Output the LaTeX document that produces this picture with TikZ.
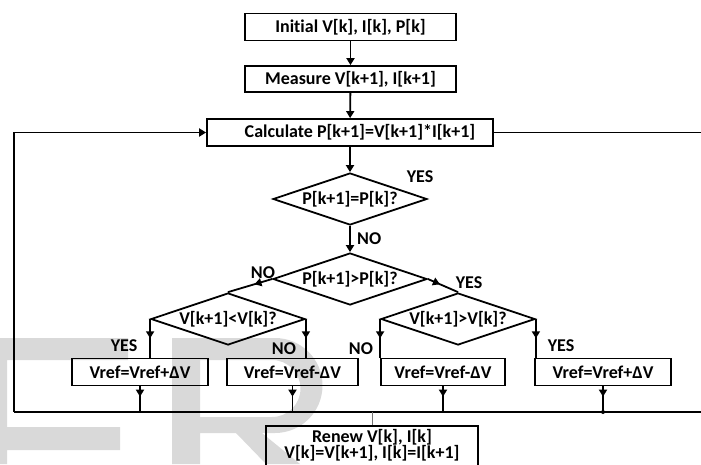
\documentclass[tikz,border=0pt]{standalone}
\usepackage{fontspec}
\setmainfont{Carlito}[Ligatures=NoCommon]
\usetikzlibrary{shapes.geometric,decorations.markings,arrows.meta}

\begin{document}
\begin{tikzpicture}[x=1pt,y=-1pt,line width=1.8pt,
    font=\bfseries\fontsize{18}{20}\selectfont,
    box/.style={draw,rectangle,minimum height=27pt,inner sep=2pt},
    cond/.style={draw,diamond,aspect=3,minimum width=154pt,minimum height=52pt,inner sep=0pt},
    tip/.style={-{Triangle[width=8pt,length=7pt]}},
    midtip/.style={postaction={decorate},decoration={markings,
        mark=at position #1 with {\arrow{Triangle[width=8pt,length=7pt]}}}},
    midtip/.default=0.5]
    \useasboundingbox (0,0) rectangle (701,464);
    \fill[black!15] (0,338) rectangle (7,464) (0,338) rectangle (128,360) (0,427) rectangle (120,450);
    \fill[black!15,even odd rule] (172,338) -- (275,338) arc[start angle=-90,end angle=90,radius=47.5]
        -- (200,433) -- (200,464) -- (172,464) -- cycle
        (200,360) -- (272,360) arc[start angle=-90,end angle=90,radius=28.5] -- (200,417) -- cycle;
    \fill[black!15] (236,433) -- (262,433) -- (300,464) -- (266,464) -- cycle;

    \node[box,minimum width=211pt] (init) at (350.5,27) {Initial V[k], I[k], P[k]};
    \node[box,minimum width=211pt,minimum height=26pt] (meas) at (350.5,79) {Measure V[k+1], I[k+1]};
    \node[box,minimum width=286pt] (calc) at (350,132.5) {\hspace{20pt}Calculate P[k+1]=V[k+1]*I[k+1]};
    \node[cond] (eqp) at (350,199) {P[k+1]=P[k]?};
    \node[cond] (gtp) at (350,279) {P[k+1]>P[k]?};
    \node[cond] (ltv) at (228,319) {V[k+1]<V[k]?};
    \node[cond] (gtv) at (458,319) {V[k+1]>V[k]?};
    \node[box,minimum width=136pt] (incl) at (140,372) {Vref=Vref+ΔV};
    \node[box,minimum width=131pt] (decl) at (292.5,372) {Vref=Vref-ΔV};
    \node[box,minimum width=124pt] (decr) at (443,372) {Vref=Vref-ΔV};
    \node[box,minimum width=136pt] (incr) at (603,372) {Vref=Vref+ΔV};
    \node[box,anchor=north,minimum width=212pt,minimum height=0pt,inner ysep=3pt,align=center,
        text depth=15pt,font=\bfseries\fontsize{18}{16.5}\selectfont] (renew) at (372,425)
        {Renew V[k], I[k]\\V[k]=V[k+1], I[k]=I[k+1]};
    \coordinate (bl) at (14,412);
    \coordinate (br) at (701,412);
    \coordinate (cr) at (701,132.5);

    \draw[tip] (init) -- (meas);
    \draw[tip] (meas) -- (calc);
    \draw[tip] (calc) -- (eqp);
    \draw[tip] (eqp) -- node[right=3pt] (noeq) {NO} (gtp);
    \node (yeseq) at (420,177) {YES};
    \draw[midtip=0.4] (gtp.west) -- (ltv.north);
    \draw[midtip=0.4] (gtp.east) -- (gtv.north);
    \node (nogt) at (263,273) {NO};
    \node (yesgt) at (469,283) {YES};
    \draw[midtip] (ltv.west) -- (ltv.west |- incl.north);
    \draw[midtip] (ltv.east) -- (ltv.east |- decl.north);
    \draw[midtip] (gtv.west) -- (gtv.west |- decr.north);
    \draw[midtip] (gtv.east) -- (gtv.east |- incr.north);
    \node (yeslt) at (124,346) {YES};
    \node (nolt) at (284,349) {NO};
    \node (nogtv) at (361,349) {NO};
    \node (yesgtv) at (561,346) {YES};
    \draw[midtip=0.4] (incl.south) -- (incl.south |- bl);
    \draw[midtip=0.4] (decl.south) -- (decl.south |- bl);
    \draw[midtip=0.4] (decr.south) -- (decr.south |- bl);
    \draw[midtip=0.4] (incr.south) -- (incr.south |- bl);
    \fill (incr.south |- bl) circle (2);
    \draw (bl) -- (br);
    \draw[tip] (bl) |- (calc.west);
    \draw (calc.east) -- (cr);
    \draw[black!55,line width=0.8pt] (renew.north) -- (renew.north |- bl);
\end{tikzpicture}
\end{document}
